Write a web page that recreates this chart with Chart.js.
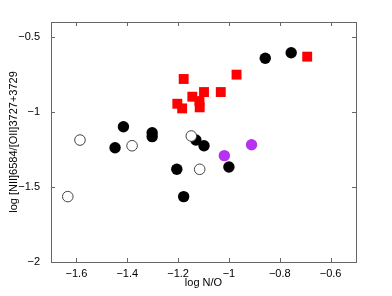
<!DOCTYPE html>
<html>
<head>
<meta charset="utf-8">
<script src="https://cdn.jsdelivr.net/npm/chart.js@4"></script>
<style>
  html, body { margin: 0; padding: 0; background: #fff; }
  #wrap { width: 392px; height: 296px; }
</style>
</head>
<body>
<div id="wrap"><canvas id="myChart" width="392" height="296"></canvas></div>
<script>
// values
const blackX = [-1.415, -1.302, -1.302, -1.448, -1.130, -1.098, -1.205, -1.178, -1.000, -0.857, -0.755];
const blackY = [-1.098, -1.138, -1.164, -1.238, -1.187, -1.225, -1.382, -1.564, -1.367, -0.642, -0.605];
const openX = [-1.586, -1.381, -1.148, -1.115, -1.634];
const openY = [-1.187, -1.225, -1.160, -1.382, -1.564];
const redX = [-1.178, -0.970, -1.144, -1.098, -1.032, -1.203, -1.184, -1.116, -1.115, -0.692];
const redY = [-0.780, -0.751, -0.898, -0.867, -0.867, -0.945, -0.976, -0.927, -0.969, -0.631];
const purpleX = [-1.018, -0.911];
const purpleY = [-1.291, -1.218];

const xTicks = [-1.6, -1.4, -1.2, -1, -0.8, -0.6];
const yTicks = [-2, -1.5, -1, -0.5];

const toPoints = (xs, ys) => xs.map((x, i) => ({ x: x, y: ys[i] }));
const fmt = (v) => String(v).replace("-", "\u2212");

const frameColor = "#666";

// matlab style box with ticks pointing inward
const boxPlugin = {
  id: "box",
  afterDraw(chart) {
    const ctx = chart.ctx;
    const a = chart.chartArea;
    const sx = chart.scales.x, sy = chart.scales.y;
    ctx.save();
    ctx.strokeStyle = frameColor;
    ctx.lineWidth = 1;
    ctx.strokeRect(a.left + 0.5, a.top + 0.5, a.right - a.left, a.bottom - a.top);
    ctx.beginPath();
    xTicks.forEach(v => {
      const px = Math.round(sx.getPixelForValue(v)) + 0.5;
      ctx.moveTo(px, a.bottom); ctx.lineTo(px, a.bottom - 4);
      ctx.moveTo(px, a.top); ctx.lineTo(px, a.top + 4);
    });
    yTicks.forEach(v => {
      const py = Math.round(sy.getPixelForValue(v)) + 0.5;
      ctx.moveTo(a.left, py); ctx.lineTo(a.left + 4, py);
      ctx.moveTo(a.right, py); ctx.lineTo(a.right - 4, py);
    });
    ctx.stroke();
    ctx.restore();
  }
};

const ctx = document.getElementById("myChart").getContext("2d");
const myChart = new Chart(ctx, {
  type: "scatter",
  data: {
    datasets: [
      {
        data: toPoints(openX, openY),
        pointStyle: "circle",
        pointRadius: 5.3,
        backgroundColor: "#fff",
        borderColor: "#444",
        borderWidth: 1,
      },
      {
        data: toPoints(blackX, blackY),
        pointStyle: "circle",
        pointRadius: 5.7,
        backgroundColor: "#000",
        borderColor: "#000",
        borderWidth: 0,
      },
      {
        data: toPoints(purpleX, purpleY),
        pointStyle: "circle",
        pointRadius: 5.7,
        backgroundColor: "#b432f0",
        borderColor: "#b432f0",
        borderWidth: 0,
      },
      {
        data: toPoints(redX, redY),
        pointStyle: "rect",
        pointRadius: 7,
        backgroundColor: "#ff0000",
        borderColor: "#ff0000",
        borderWidth: 0,
      },
    ],
  },
  options: {
    responsive: false,
    animation: false,
    events: [],
    layout: { padding: { left: 0, right: 36, top: 22, bottom: 0 } },
    plugins: { legend: { display: false }, tooltip: { enabled: false } },
    scales: {
      x: {
        type: "linear",
        min: -1.7,
        max: -0.5,
        afterBuildTicks: (s) => { s.ticks = xTicks.map(v => ({ value: v })); },
        afterFit: (s) => { s.height = 34; },
        grid: { display: false, drawTicks: false },
        border: { display: false },
        ticks: {
          color: "#000",
          font: { family: "Liberation Sans", size: 11 },
          padding: 5,
          maxRotation: 0,
          autoSkip: false,
          callback: (v) => fmt(v),
        },
        title: {
          display: true,
          text: "log N/O",
          color: "#000",
          font: { family: "Liberation Sans", size: 11 },
          padding: { top: 0, bottom: 6 },
        },
      },
      y: {
        type: "linear",
        min: -2,
        max: -0.4,
        afterBuildTicks: (s) => { s.ticks = yTicks.map(v => ({ value: v })); },
        afterFit: (s) => { s.width = 51; },
        grid: { display: false },
        border: { display: false },
        ticks: {
          color: "#000",
          font: { family: "Liberation Sans", size: 11 },
          padding: 3,
          autoSkip: false,
          callback: (v) => fmt(v),
        },
        title: {
          display: true,
          text: "log [NII]6584/[OII]3727+3729",
          color: "#000",
          font: { family: "Liberation Sans", size: 11 },
          padding: { top: 7, bottom: 0 },
        },
      },
    },
  },
  plugins: [boxPlugin],
});
</script>
</body>
</html>
